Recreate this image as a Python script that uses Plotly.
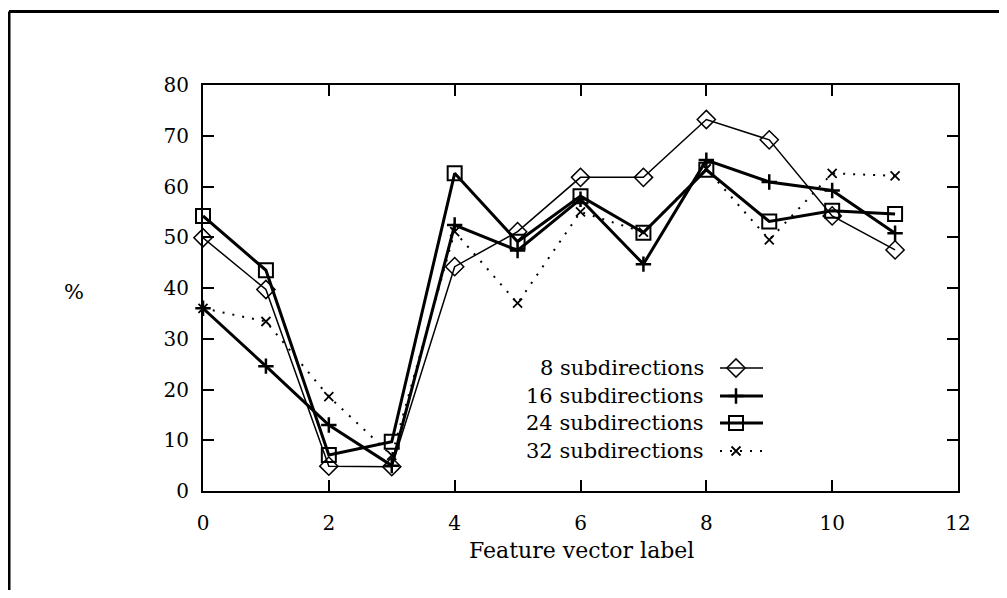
import plotly.graph_objects as go

labels = list(range(12))
s8 = [49.9, 39.7, 4.9, 4.8, 44.2, 51.1, 61.8, 61.8, 73.2, 69.2, 54.2, 47.5]
s16 = [36.0, 24.6, 13.0, 5.0, 52.4, 47.4, 57.5, 44.7, 65.2, 60.9, 59.2, 50.8]
s24 = [54.2, 43.5, 7.1, 9.7, 62.6, 49.1, 58.1, 50.9, 63.3, 53.1, 55.2, 54.6]
s32 = [36.0, 33.4, 18.6, 7.0, 51.1, 37.0, 55.0, 51.0, 63.5, 49.5, 62.6, 62.1]
names = ["8 subdirections", "16 subdirections", "24 subdirections", "32 subdirections"]
xticks = [0, 2, 4, 6, 8, 10, 12]
yticks = [0, 10, 20, 30, 40, 50, 60, 70, 80]

FONT = "DejaVu Serif"
OFF = 8  # page body margin in the browser

styles = [
    dict(line=dict(color="black", width=1.5), marker=dict(symbol="diamond-open", size=14, color="black", line=dict(width=1.5))),
    dict(line=dict(color="black", width=3), marker=dict(symbol="cross-thin", size=11, color="black", line=dict(width=2.5, color="black"))),
    dict(line=dict(color="black", width=3), marker=dict(symbol="square-open", size=14, color="black", line=dict(width=2))),
    dict(line=dict(color="black", width=2, dash="2px,8px"), marker=dict(symbol="x-thin", size=9, color="black", line=dict(width=1.8, color="black"))),
]
series = [s8, s16, s24, s32]

fig = go.Figure()
for name, ys, st in zip(names, series, styles):
    fig.add_trace(go.Scatter(x=labels, y=ys, mode="lines+markers", name=name,
                             line=st["line"], marker=st["marker"], showlegend=False,
                             cliponaxis=False))

# target screen geometry (pixels in the photographed page)
PL, PR, PT, PB = 203, 958, 85, 491
L, T = PL - OFF, PT - OFF
W, H = PR - PL, PB - PT
FW, FH = 1007 - OFF, 598 - 2 * OFF
R, B = FW - L - W, FH - T - H

# manual legend (text left of sample, as in the reference), in screen-pixel overlay axes
leg_rows = [368, 396, 423, 451]
for name, st, yy in zip(names, styles, leg_rows):
    fig.add_trace(go.Scatter(x=[720, 763], y=[yy, yy], mode="lines", line=st["line"],
                             xaxis="x2", yaxis="y2", showlegend=False, hoverinfo="skip"))
    fig.add_trace(go.Scatter(x=[736], y=[yy], mode="markers", marker=st["marker"],
                             xaxis="x2", yaxis="y2", showlegend=False, hoverinfo="skip"))
    fig.add_annotation(x=706, y=yy, xref="x2", yref="y2", text=name, showarrow=False,
                       xanchor="right", yanchor="middle", font=dict(family=FONT, size=21, color="black"))

axis_common = dict(showgrid=False, zeroline=False, showline=True, linecolor="black", linewidth=2,
                   mirror="allticks", ticks="inside", ticklen=11, tickwidth=1.5, tickcolor="black",
                   tickfont=dict(family=FONT, size=20, color="black"))
fig.update_layout(
    width=FW, height=FH, margin=dict(l=L, r=R, t=T, b=B, autoexpand=False),
    paper_bgcolor="white", plot_bgcolor="white",
    xaxis=dict(range=[0, 12], tickvals=xticks, ticktext=[str(v) for v in xticks], ticklabelstandoff=13, **axis_common),
    yaxis=dict(range=[0, 80], tickvals=yticks, ticktext=[str(v) for v in yticks], ticklabelstandoff=8, **axis_common),
    xaxis2=dict(range=[PL, PR], overlaying="x", visible=False, fixedrange=True),
    yaxis2=dict(range=[PB, PT], overlaying="y", visible=False, fixedrange=True),
)


def px(xp):
    return (xp - PL) / W


def py(yp):
    return (PB - yp) / H


# axis titles
fig.add_annotation(x=px(74), y=py(292), xref="paper", yref="paper", text="%",
                   xanchor="center", yanchor="middle",
                   showarrow=False, font=dict(family=FONT, size=21, color="black"))
fig.add_annotation(x=px(581), y=py(550), xref="paper", yref="paper",
                   text="Feature vector label", showarrow=False, xanchor="center", yanchor="middle",
                   font=dict(family=FONT, size=22, color="black"))

# outer frame of the scanned figure
BOT = OFF + FH
RX = 1001
for x0, y0, x1, y1 in [(9, 11.5, RX, 11.5), (9, 11.5, 9, BOT), (RX, 11.5, RX, BOT)]:
    fig.add_shape(type="line", xref="paper", yref="paper", x0=px(x0), y0=py(y0), x1=px(x1), y1=py(y1),
                  line=dict(color="black", width=3))

fig.write_html("out.html")
